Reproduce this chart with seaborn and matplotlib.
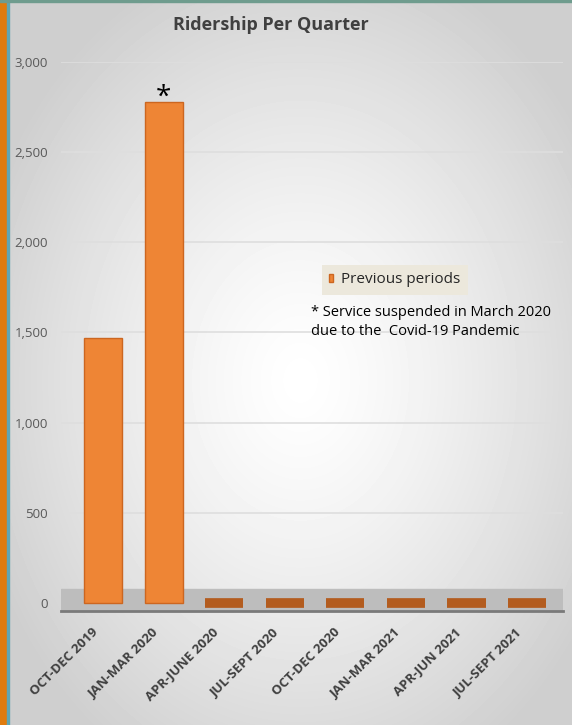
import numpy as np
import pandas as pd
import seaborn as sns
import matplotlib.transforms as mtransforms
from matplotlib import pyplot as plt

# data
quarters = ["OCT-DEC 2019", "JAN-MAR 2020", "APR-JUNE 2020", "JUL-SEPT 2020",
            "OCT-DEC 2020", "JAN-MAR 2021", "APR-JUN 2021", "JUL-SEPT 2021"]
riders = [1470, 2780, 0, 0, 0, 0, 0, 0]
y_ticks = [0, 500, 1000, 1500, 2000, 2500, 3000]

df = pd.DataFrame({"Quarter": quarters, "Riders": riders})

sns.set_theme(style="white")
plt.rcParams["font.family"] = ["Open Sans", "DejaVu Sans"]

fig = plt.figure(figsize=(5.72, 7.25), dpi=100)

# background: soft radial gradient
bg = fig.add_axes([0, 0, 1, 1], zorder=-5)
yy, xx = np.mgrid[0:725, 0:572]
r = np.sqrt(((xx - 300) / 340.0) ** 2 + ((yy - 380) / 440.0) ** 2)
shade = np.clip(1.0 - 0.19 * r ** 1.3, 0.81, 1.0)
bg.imshow(shade, cmap="gray", vmin=0, vmax=1, aspect="auto", extent=[0, 572, 725, 0])
bg.set_xlim(0, 572)
bg.set_ylim(725, 0)
bg.axis("off")
# frame strips
bg.axvspan(0, 7, color="#df7b0e")
bg.axvspan(7, 8.5, color="#5fa5b3")
bg.axhspan(0, 2, color="#6f9c8e")

ax = fig.add_axes([0.106, 0.1572, 0.879, 0.7573])
ax.patch.set_alpha(0)

ax.axhspan(-45, 75, color="#bdbdbd", zorder=0)
for t in y_ticks[1:]:
    ax.axhline(t, color="#dedede", lw=1.2, zorder=0.5)

sns.barplot(data=df, x="Quarter", y="Riders", color="#ee8535", width=0.63,
            edgecolor="#cc6620", linewidth=1.0, saturation=1, ax=ax,
            label="Previous periods", zorder=2)

for p in ax.patches:
    if p.get_height() == 0:
        p.set_linewidth(7)
        p.set_edgecolor("#b35c1f")
        p.set_facecolor("#b35c1f")

ax.annotate("*", (1, riders[1]), xytext=(0, -7), textcoords="offset points",
            ha="center", va="bottom", fontsize=20, color="black",
            annotation_clip=False)

ax.set_xlim(-0.7, 7.6)
ax.set_ylim(-45, 3000)
ax.set_yticks(y_ticks)
ax.set_yticklabels([f"{v:,}" for v in y_ticks], color="#595959", fontsize=9.5)
ax.tick_params(axis="y", length=0, pad=9)
ax.tick_params(axis="x", length=0, pad=4)
ax.set_xticks(range(len(quarters)))
ax.set_xticklabels(quarters, rotation=45, ha="right", rotation_mode="anchor",
                   fontsize=9.5, fontweight="bold", color="#404040")
shift = mtransforms.ScaledTranslation(-12 / 100, -9 / 100, fig.dpi_scale_trans)
for lbl in ax.get_xticklabels():
    lbl.set_transform(lbl.get_transform() + shift)
ax.set_xlabel("")
ax.set_ylabel("")
for s in ["top", "right", "left"]:
    ax.spines[s].set_visible(False)
ax.spines["bottom"].set_color("#7a7a7a")
ax.spines["bottom"].set_linewidth(2)

leg = ax.legend(loc="upper left", bbox_to_anchor=(314 / 572, 1 - 257 / 725),
                bbox_transform=fig.transFigure, frameon=True, fontsize=11,
                handlelength=0.25, handleheight=0.5, handletextpad=0.5,
                borderpad=0.5, fancybox=False)
leg.get_frame().set_facecolor("#ece8dc")
leg.get_frame().set_edgecolor("none")
leg.get_frame().set_alpha(1)

fig.text(311 / 572, 1 - 322 / 725,
         "* Service suspended in March 2020\ndue to the  Covid-19 Pandemic",
         fontsize=10.5, color="black", va="center", ha="left", linespacing=1.3)

fig.text(271 / 572, 1 - 25 / 725, "Ridership Per Quarter", ha="center", va="center",
         fontsize=13, fontweight="bold", color="#404040")

fig.savefig("out.png", dpi=100)
